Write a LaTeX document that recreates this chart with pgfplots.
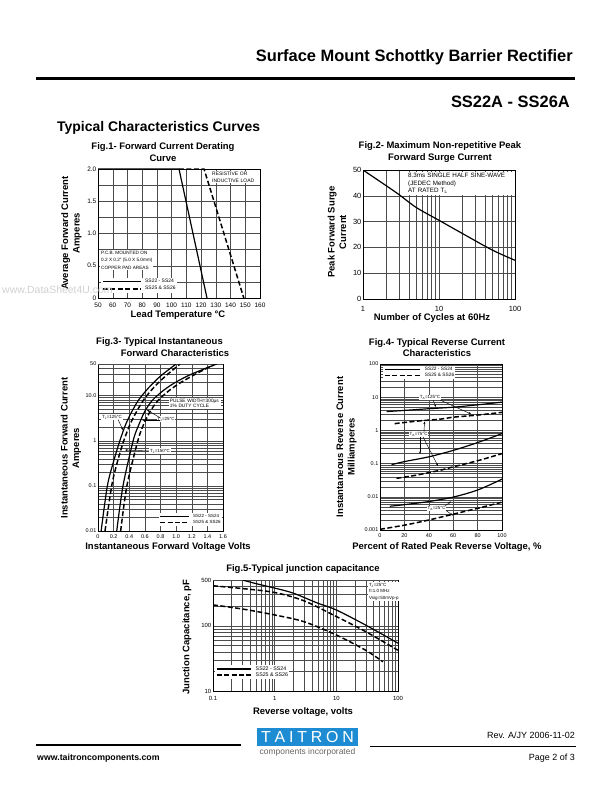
\documentclass[border=0pt]{standalone}
\usepackage{fontspec}
\setmainfont{Liberation Sans}
\usepackage{pgfplots}
\pgfplotsset{compat=1.18}
\usetikzlibrary{arrows.meta}
\definecolor{taiblue}{HTML}{1E8CD3}
\definecolor{gridc}{gray}{0.3}
\newcommand{\fs}[1]{\fontsize{#1}{#1}\selectfont}
\pgfplotsset{
  dsaxis/.style={
    scale only axis,
    axis line style={black, line width=0.7pt},
    grid=both,
    major grid style={draw=gridc, line width=0.35pt},
    minor grid style={draw=gridc, line width=0.3pt},
    major tick length=0pt, minor tick length=0pt,
    /pgf/number format/assume math mode=true,
    tick label style={inner sep=1.5pt},
    xticklabel style={yshift=-2bp},
    legend cell align=left,
  },
  sol/.style={black, line width=1.2pt, line join=round},
  dsh/.style={black, line width=1.5pt, dash pattern=on 5pt off 2.5pt},
}
\tikzset{
  ann/.style={fill=white, inner sep=0.6pt, align=left, font=\fs{4.5}},
  arr/.style={-{Stealth[length=2.6bp,width=2bp]}, line width=0.45pt},
  ttl/.style={font=\bfseries\fontsize{9.5}{11.5}\selectfont, align=center, inner sep=0},
  lbl/.style={font=\bfseries\fontsize{9.5}{11.5}\selectfont, align=center, inner sep=0},
}
\begin{document}
\begin{tikzpicture}[x=1bp,y=1bp]
\fill[white] (0,0) rectangle (612,-792);
\path[use as bounding box] (0,0) rectangle (612,-792);

% ---------------- header
\node[anchor=base east, font=\bfseries\fontsize{16.5}{18}\selectfont, inner sep=0] at (573,-62) {Surface Mount Schottky Barrier Rectifier};
\draw[line width=3bp] (36,-78) -- (575,-78);
\node[anchor=base east, font=\bfseries\fontsize{16.5}{18}\selectfont, inner sep=0] at (570,-107) {SS22A - SS26A};
\node[anchor=base west, font=\bfseries\fontsize{14}{16}\selectfont, inner sep=0] at (57,-131) {Typical Characteristics Curves};

% ---------------- Fig 1
\node[ttl] at (163,-152) {Fig.1- Forward Current Derating\\Curve};
\begin{axis}[dsaxis, at={(98bp,-298bp)}, anchor=south west, width=162bp, height=129bp,
  xmin=50, xmax=160, ymin=0, ymax=2, clip=false,
  xtick={50,60,70,80,90,100,110,120,130,140,150,160},
  ytick={0,0.5,1,1.5,2}, yticklabels={0,0.5,1.0,1.5,2.0},
  minor ytick={0.25,0.75,1.25,1.75},
  tick label style={font=\fs{6.5}},
  xticklabel style={yshift=-1bp},
  legend style={at={(axis description cs:0.02,0.04)}, anchor=south west, draw=none, fill=white,
     font=\fs{5}, inner sep=0.8pt, row sep=1.5pt, nodes={inner sep=0.4pt},
     /tikz/every odd column/.append style={column sep=3bp}},
  legend image code/.code={\draw[#1] (0bp,0bp) -- (38bp,0bp);},
]
\addplot[sol] coordinates {(50,2) (105,2) (124,0)};
\addlegendentry{SS22 - SS24}
\addplot[dsh] coordinates {(105,2) (122,2) (149,0)};
\addlegendentry{SS25 \& SS26}
\end{axis}
\node[ann, anchor=north west, font=\fontsize{4.7}{7.5}\selectfont, inner sep=1pt] at (100,-250) {P.C.B. MOUNTED ON\\0.2 X 0.2" (5.0 X 5.0mm)\\COPPER PAD AREAS};
\node[ann, anchor=north west, text width=46bp, font=\fontsize{5}{7}\selectfont, inner sep=1pt] at (211,-170.5) {RESISTIVE OR\\INDUCTIVE LOAD};
\node[lbl, rotate=90] at (71.5,-233) {Average Forward Current\\Amperes};
\node[lbl] at (178,-315) {Lead Temperature °C};

% ---------------- Fig 2
\node[ttl] at (440,-152) {Fig.2- Maximum Non-repetitive Peak\\Forward Surge Current};
\begin{axis}[dsaxis, at={(363bp,-299bp)}, anchor=south west, width=152bp, height=129bp,
  xmode=log, xmin=1, xmax=100, ymin=0, ymax=50,
  xtick={1,10,100}, xticklabels={1,10,100},
  minor xtick={2,3,4,5,6,7,8,9,20,30,40,50,60,70,80,90},
  ytick={0,10,20,30,40,50},
  tick label style={font=\fs{7.5}},
  xticklabel style={yshift=-4bp},
]
\addplot[sol, smooth, tension=0.5] coordinates {(1,50) (2,44) (3,40.4) (5,35.5) (10,30.5) (20,25.5) (50,19) (100,15)};
\end{axis}
\node[fill=white, anchor=north west, text width=104bp, align=left, inner sep=1pt, font=\fontsize{6.3}{7.5}\selectfont] at (407,-172) {8.3ms SINGLE HALF SINE-WAVE\\(JEDEC Method)\\AT RATED T\textsubscript{L}};
\node[lbl, rotate=90] at (337,-232) {Peak Forward Surge\\Current};
\node[lbl] at (432,-318) {Number of Cycles at 60Hz};

% ---------------- Fig 3
\node[ttl] at (159.5,-342) {Fig.3- Typical Instantaneous};
\node[ttl] at (175,-353) {Forward Characteristics};
\begin{axis}[dsaxis, at={(98bp,-531bp)}, anchor=south west, width=125bp, height=167bp,
  ymode=log, xmin=0, xmax=1.6, ymin=0.01, ymax=50,
  xtick={0,0.2,0.4,0.6,0.8,1.0,1.2,1.4,1.6}, xticklabels={0,0.2,0.4,0.6,0.8,1.0,1.2,1.4,1.6},
  ytick={0.01,0.1,1,10}, yticklabels={0.01,0.1,1,10.0},
  extra y ticks={50}, extra y tick labels={50},
  minor ytick={0.02,0.03,0.04,0.05,0.06,0.07,0.08,0.09,0.2,0.3,0.4,0.5,0.6,0.7,0.8,0.9,2,3,4,5,6,7,8,9,20,30,40},
  tick label style={font=\fs{5.5}},
  legend style={at={(axis description cs:0.992,0.03)}, anchor=south east, draw=none, fill=white,
     font=\fs{4.5}, inner sep=0.8pt, row sep=0pt, nodes={inner sep=0.4pt},
     /tikz/every odd column/.append style={column sep=3bp}},
  legend image code/.code={\draw[#1] (0bp,0bp) -- (29bp,0bp);},
]
\addplot[sol, smooth, tension=0.5] coordinates {(0.04,0.01) (0.12,0.1) (0.20,0.35) (0.28,1) (0.35,2.2) (0.42,4) (0.52,8) (0.65,15) (0.80,27) (1.0,50)};
\addlegendentry{SS22 - SS24}
\addplot[dsh, smooth, tension=0.5] coordinates {(0.09,0.01) (0.175,0.1) (0.25,0.35) (0.33,1) (0.41,2.3) (0.49,4.3) (0.59,8.3) (0.72,15.5) (0.87,27.5) (1.05,50)};
\addlegendentry{SS25 \& SS26}
\addplot[sol, smooth, tension=0.5, forget plot] coordinates {(0.24,0.01) (0.32,0.1) (0.45,1) (0.52,2.2) (0.60,4.5) (0.70,8) (0.85,13.5) (1.0,20) (1.2,30) (1.52,50)};
\addplot[dsh, smooth, tension=0.5, forget plot] coordinates {(0.29,0.01) (0.37,0.1) (0.51,1) (0.58,2.2) (0.66,4.2) (0.76,7.5) (0.90,12.5) (1.05,19) (1.25,30) (1.48,48)};
\end{axis}
\node[ann, anchor=north west, text width=50bp, font=\fontsize{4.8}{5.5}\selectfont, inner sep=0.8pt] at (169,-398) {PULSE WIDTH=300µs\\1\% DUTY CYCLE};
\node[ann] at (112,-417) {T\textsubscript{J}=125°C};
\draw[arr] (118,-419.5) -- (123,-430);
\node[ann] at (166,-419) {T\textsubscript{J}=25°C};
\draw[arr] (160.5,-418) -- (147,-410);
\draw[arr] (160,-420) -- (142,-420);
\node[ann] at (160,-451) {T\textsubscript{J}=150°C};
\draw[arr] (149,-451) -- (125,-450);
\node[lbl, rotate=90] at (71,-448) {Instantaneous Forward Current\\Amperes};
\node[lbl] at (168,-547) {Instantaneous Forward Voltage Volts};

% ---------------- Fig 4
\node[ttl] at (437,-347.5) {Fig.4- Typical Reverse Current\\Characteristics};
\begin{axis}[dsaxis, at={(380bp,-530bp)}, anchor=south west, width=122bp, height=166bp,
  ymode=log, xmin=0, xmax=100, ymin=0.001, ymax=100,
  xtick={0,20,40,60,80,100},
  ytick={0.001,0.01,0.1,1,10,100}, yticklabels={0.001,0.01,0.1,1,10,100},
  minor ytick={0.002,0.003,0.004,0.005,0.006,0.007,0.008,0.009,0.02,0.03,0.04,0.05,0.06,0.07,0.08,0.09,0.2,0.3,0.4,0.5,0.6,0.7,0.8,0.9,2,3,4,5,6,7,8,9,20,30,40,50,60,70,80,90},
  tick label style={font=\fs{5.5}},
  legend style={at={(axis description cs:0.025,0.988)}, anchor=north west, draw=none, fill=white,
     font=\fs{4.8}, inner sep=0.8pt, row sep=0pt, nodes={inner sep=0.4pt},
     /tikz/every odd column/.append style={column sep=4bp}},
  legend image code/.code={\draw[#1] (0bp,0bp) -- (35bp,0bp);},
]
\addplot[sol, smooth, tension=0.5] coordinates {(5.5,3.7) (20,4.0) (40,4.5) (60,5.0) (80,5.9) (100,7.1)};
\addlegendentry{SS22 - SS24}
\addplot[dsh, smooth, tension=0.5] coordinates {(12,1.6) (30,1.9) (50,2.2) (60,2.5) (80,2.9) (100,3.5)};
\addlegendentry{SS25 \& SS26}
\addplot[sol, smooth, tension=0.5, forget plot] coordinates {(9.5,0.093) (20,0.115) (40,0.16) (60,0.25) (80,0.43) (100,0.8)};
\addplot[dsh, smooth, tension=0.5, forget plot] coordinates {(13.5,0.036) (30,0.045) (50,0.064) (60,0.08) (80,0.122) (100,0.2)};
\addplot[sol, smooth, tension=0.5, forget plot] coordinates {(8,0.0052) (20,0.0058) (40,0.0072) (60,0.0098) (80,0.016) (100,0.034)};
\addplot[dsh, smooth, tension=0.5, forget plot] coordinates {(0,0.00105) (20,0.0014) (40,0.002) (60,0.003) (80,0.0045) (100,0.0069)};
\end{axis}
\node[ann] at (430,-397.5) {T\textsubscript{A}=125°C};
\draw[arr] (433,-400) -- (436,-407);
\draw[arr] (440,-400) -- (471,-414);
\node[ann] at (418.5,-434.5) {T\textsubscript{A}=75°C};
\draw[arr] (424,-432) -- (424.5,-421.5);
\draw[arr] (420,-437) -- (420,-454);
\draw[arr] (423,-437) -- (438,-466);
\node[ann] at (436.5,-508.5) {T\textsubscript{A}=25°C};
\draw[arr] (445,-506) -- (451,-501.5);
\draw[arr] (446,-510.5) -- (453,-515.5);
\node[lbl, rotate=90] at (346.5,-447) {Instantaneous Reverse Current\\Milliamperes};
\node[lbl] at (447,-547) {Percent of Rated Peak Reverse Voltage, \%};

% ---------------- Fig 5
\node[ttl] at (303,-569) {Fig.5-Typical junction capacitance};
\begin{axis}[dsaxis, at={(213bp,-691bp)}, anchor=south west, width=185bp, height=111bp,
  xmode=log, ymode=log, xmin=0.1, xmax=100, ymin=10, ymax=500,
  xtick={0.1,1,10,100}, xticklabels={0.1,1,10,100},
  ytick={10,100}, yticklabels={10,100},
  extra y ticks={500}, extra y tick labels={500},
  minor xtick={0.2,0.3,0.4,0.5,0.6,0.7,0.8,0.9,2,3,4,5,6,7,8,9,20,30,40,50,60,70,80,90},
  minor ytick={20,30,40,50,60,70,80,90,200,300,400},
  tick label style={font=\fs{6}},
  xticklabel style={yshift=-1.5bp},
  legend style={at={(axis description cs:0.01,0.234)}, anchor=north west, draw=none, fill=white,
     font=\fs{5.3}, inner sep=0.8pt, row sep=0pt, nodes={inner sep=0.4pt},
     /tikz/every odd column/.append style={column sep=4bp}},
  legend image code/.code={\draw[#1] (0bp,0bp) -- (34bp,0bp);},
]
\addplot[sol, smooth, tension=0.5] coordinates {(0.3,500) (0.5,440) (1,376) (2,315) (5,221) (10,174) (30,102) (100,54)};
\addlegendentry{SS22 - SS24}
\addplot[dsh, smooth, tension=0.5] coordinates {(0.1,408) (0.3,370) (1,322) (3,240) (10,138) (30,81) (100,42)};
\addlegendentry{SS25 \& SS26}
\addplot[dsh, smooth, tension=0.5, forget plot] coordinates {(0.1,208) (0.3,180) (1,146) (3,115) (10,72) (30,42) (57,28)};
\end{axis}
\node[ann, anchor=north west, font=\fontsize{4.5}{6.5}\selectfont, inner sep=0.8pt] at (368,-582) {T\textsubscript{J}=25°C\\f=1.0 MHz\\Vsig=50mVp-p};
\node[lbl, rotate=90] at (187,-637) {Junction Capacitance, pF};
\node[lbl] at (303,-712) {Reverse voltage, volts};

% ---------------- footer
\draw[line width=2bp] (36,-745) -- (241,-745);
\draw[line width=1bp] (370,-746) -- (576,-746);
\fill[taiblue] (257,-728) rectangle (358,-746);
\node[text=white, font=\fontsize{16}{16}\selectfont, inner sep=0] at (307.5,-737) {\makebox[93bp][s]{T A I T R O N}};
\node[text=black!60, font=\fontsize{8.5}{9}\selectfont, inner sep=0] at (307.5,-752) {components incorporated};
\node[anchor=base west, font=\bfseries\fontsize{8.8}{9}\selectfont, inner sep=0] at (37,-760) {www.taitroncomponents.com};
\node[anchor=base east, font=\fontsize{9}{9}\selectfont, inner sep=0] at (575,-738.5) {Rev. A/JY 2006-11-02};
\node[anchor=base east, font=\fontsize{9}{9}\selectfont, inner sep=0] at (575,-760) {Page 2 of 3};

% watermark
\node[anchor=base west, text=black!18, font=\fontsize{10.5}{11}\selectfont, inner sep=0] at (2,-293) {www.DataSheet4U.com};
\end{tikzpicture}
\end{document}
